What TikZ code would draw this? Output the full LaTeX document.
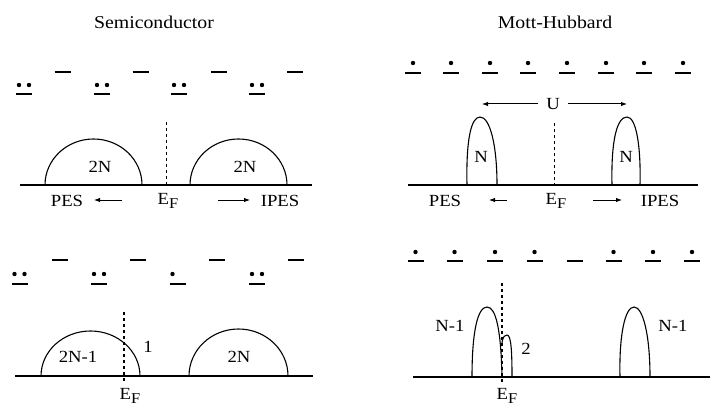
\documentclass[tikz,border=0pt]{standalone}
\usepackage{fontspec}
\setmainfont{Liberation Serif}[FakeStretch=1.1]
\usetikzlibrary{arrows.meta}

\newcommand{\EF}{E\raisebox{-0.55ex}{\fontsize{15}{16}\selectfont F}}

\tikzset{
  niveau/.style={line width=1.3pt},
  bande/.style={line width=1.1pt},
  axe/.style={line width=1.2pt},
  fleche/.style={-{Latex[length=6pt,width=4.5pt]},line width=1pt},
  texte/.style={font=\fontsize{17}{19}\selectfont,inner sep=0pt},
  titre/.style={font=\fontsize{18}{20}\selectfont,inner sep=0pt}
}

\begin{document}
\begin{tikzpicture}[x=1pt,y=-1pt]

\useasboundingbox
(0,0)
rectangle
(711,417);

% Titres
\node[titre] (semi) at (154,22) {Semiconductor};
\node[titre] (mott) at (555,22) {Mott-Hubbard};

% Semiconducteur, haut : niveaux
\foreach \x in {62.5,140.5,218.5,295}
  \draw[niveau] (\x-8,72) -- (\x+8,72);
\foreach \x in {24,102,179,257}
{
  \draw[niveau] (\x-8,94) -- (\x+8,94);
  \fill (\x-5,85) circle (2.2pt);
  \fill (\x+5,85) circle (2.2pt);
}

% Semiconducteur, haut : bandes
\draw[axe]
(20,185)
--
(312,185);

\draw[bande]
(45,185) .. controls (45,159.6) and (66.7,139) .. (93.5,139)
.. controls (120.3,139) and (142,159.6) .. (142,185);

\draw[bande]
(190,185) .. controls (190,159.6) and (211.7,139) .. (238.5,139)
.. controls (265.3,139) and (287,159.6) .. (287,185);

\draw[dashed,line width=1pt]
(166,122)
--
(166,188);

\node[texte] (bvA) at (100,167) {2N};
\node[texte] (bcA) at (245,167) {2N};

% Semiconducteur, haut : PES / IPES
\node[texte] (pesA) at (67,201) {PES};
\node[texte] (efA) at (168,201) {\EF};
\node[texte] (ipesA) at (280,201) {IPES};
\coordinate (pesA1) at (122,200);
\coordinate (pesA2) at (94,200);
\coordinate (ipesA1) at (218,200);
\coordinate (ipesA2) at (250,200);
\draw[fleche] (pesA1) -- (pesA2);
\draw[fleche] (ipesA1) -- (ipesA2);

% Mott-Hubbard, haut : niveaux
\foreach \x in {413,451,490,528,567,606,644,683}
{
  \draw[niveau] (\x-8,73) -- (\x+8,73);
  \fill (\x,63) circle (2.2pt);
}

% Mott-Hubbard, haut : U
\node[texte] (U) at (553,104) {U};
\coordinate (uG) at (482,104);
\coordinate (uD) at (627,104);
\draw[fleche,shorten <=8pt] (U) -- (uG);
\draw[fleche,shorten <=8pt] (U) -- (uD);

% Mott-Hubbard, haut : bandes
\draw[axe]
(408,185)
--
(698,185);

\draw[bande]
(467,185) .. controls (466,140) and (471,117) .. (480,117)
.. controls (490,117) and (497,145) .. (497,185);

\draw[bande]
(612,185) .. controls (611,140) and (617,117) .. (627,117)
.. controls (636,117) and (641,145) .. (640,185);

\draw[dashed,line width=1pt]
(554,123)
--
(554,188);

\node[texte] (hbA) at (481,157) {N};
\node[texte] (hbB) at (626,157) {N};

% Mott-Hubbard, haut : PES / IPES
\node[texte] (pesB) at (445,201) {PES};
\node[texte] (efB) at (556,201) {\EF};
\node[texte] (ipesB) at (660,201) {IPES};
\coordinate (pesB1) at (507,200);
\coordinate (pesB2) at (489,200);
\coordinate (ipesB1) at (593,200);
\coordinate (ipesB2) at (622,200);
\draw[fleche] (pesB1) -- (pesB2);
\draw[fleche] (ipesB1) -- (ipesB2);

% Semiconducteur, bas : niveaux
\foreach \x in {60,138,216.5,295.5}
  \draw[niveau] (\x-8,260) -- (\x+8,260);
\foreach \x in {19.5,99,257}
{
  \draw[niveau] (\x-8,284) -- (\x+8,284);
  \fill (\x-5,274) circle (2.2pt);
  \fill (\x+5,274) circle (2.2pt);
}
\draw[niveau] (169.5,284) -- (185.5,284);
\fill (172.5,274) circle (2.2pt);

% Semiconducteur, bas : bandes
\draw[axe]
(15,376)
--
(313,376);

\draw[bande]
(41,376) .. controls (41,351.1) and (63.2,331) .. (90.5,331)
.. controls (117.8,331) and (140,351.1) .. (140,376);

\draw[bande]
(189,376) .. controls (189,350) and (211.2,329) .. (238.5,329)
.. controls (265.8,329) and (288,350) .. (288,376);

\draw[dashed,line width=1.8pt]
(124,312)
--
(124,382);

\node[texte] (bvC) at (78,357) {2N-1};
\node[texte] (unC) at (148,347) {1};
\node[texte] (bcC) at (239,357) {2N};
\node[texte] (efC) at (130,396) {\EF};

% Mott-Hubbard, bas : niveaux
\foreach \x in {415.5,454.5,495,534.5,613.5,653,692}
{
  \draw[niveau] (\x-8,261) -- (\x+8,261);
  \fill (\x,252) circle (2.2pt);
}
\draw[niveau] (566.5,261) -- (582.5,261);

% Mott-Hubbard, bas : bandes
\draw[axe]
(413,377)
--
(710,377);

\draw[bande]
(472,377) .. controls (472,330) and (478,307) .. (487,307)
.. controls (496,307) and (501,330) .. (502,377);

\draw[bande]
(502,343) .. controls (503,336) and (505,335) .. (507,335)
.. controls (511,335) and (512,350) .. (512,377);

\draw[bande]
(620,377) .. controls (619,335) and (625,307) .. (634,307)
.. controls (643,307) and (650,335) .. (650,377);

\draw[dashed,line width=1.2pt]
(502,283)
--
(502,382);

\node[texte] (hbC) at (450,326) {N-1};
\node[texte] (deuxD) at (526,349) {2};
\node[texte] (hbD) at (673,326) {N-1};
\node[texte] (efD) at (507,396) {\EF};

\end{tikzpicture}
\end{document}
